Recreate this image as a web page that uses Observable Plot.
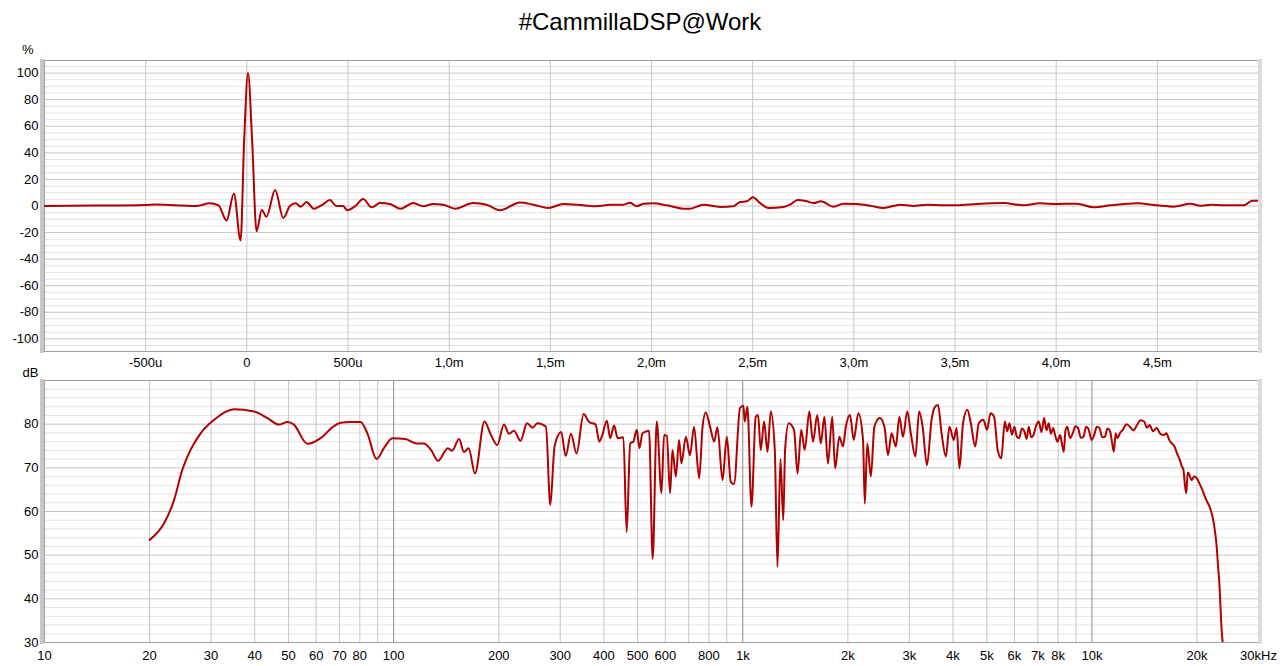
<!DOCTYPE html>
<html><head><meta charset="utf-8">
<script src="https://cdn.jsdelivr.net/npm/d3@7"></script>
<script src="https://cdn.jsdelivr.net/npm/@observablehq/plot@0.6"></script>
<style>
body{margin:0;background:#fff;}
#wrap{position:relative;width:1280px;height:666px;overflow:hidden;font-family:"Liberation Sans",Arial,sans-serif;background:#fff;}
#title{position:absolute;top:7px;left:0;width:1280px;text-align:center;font-size:24px;color:#000;line-height:30px;}
.pl{position:absolute;left:0;}
.bar{position:absolute;}
</style></head><body><div id="wrap"><div id="title">#CammillaDSP@Work</div></div>
<script>
// ---- Impulse response (time in ms, amplitude in %) ----
const timeMs = [-1.0, -0.75, -0.5, -0.45, -0.35, -0.252, -0.183, -0.14, -0.1, -0.064, -0.031, -0.013, 0.006, 0.026, 0.048, 0.074, 0.097, 0.14, 0.18, 0.213, 0.242, 0.266, 0.295, 0.331, 0.377, 0.41, 0.443, 0.476, 0.496, 0.534, 0.575, 0.617, 0.658, 0.707, 0.76, 0.822, 0.872, 0.921, 0.971, 1.029, 1.119, 1.185, 1.251, 1.35, 1.416, 1.49, 1.564, 1.663, 1.729, 1.795, 1.861, 1.894, 1.927, 1.96, 2.009, 2.076, 2.158, 2.191, 2.257, 2.339, 2.405, 2.438, 2.471, 2.501, 2.537, 2.578, 2.652, 2.685, 2.722, 2.768, 2.801, 2.837, 2.9, 2.949, 3.015, 3.081, 3.147, 3.229, 3.295, 3.362, 3.444, 3.51, 3.609, 3.74, 3.839, 3.921, 4.004, 4.103, 4.185, 4.268, 4.4, 4.499, 4.581, 4.664, 4.713, 4.763, 4.828, 4.927, 4.969, 5.0];
const amplitudePct = [0, 0.3, 0.8, 1.2, 0.6, 0, 2, 0.5, -11, 9.5, -26, 50, 100, 50, -19, -3, -8, 12, -9, 0, 2, -0.5, 3, -2, 1.3, 4.5, 0, 0, -3.2, -0.3, 5.2, -1, 2.2, 1.5, -2, 2.2, -0.2, 1.5, 1, -2, 2.2, 1, -3.2, 2.7, 1, -1.5, 1.5, 0.5, -0.2, 1, 1, 2.5, -0.2, 1.7, 2, 0.5, -2, -2, 1, -0.7, -0.2, 3, 3.5, 6.5, 2.2, -1.5, -0.7, 1, 4.5, 3.5, 2.2, 3.5, -0.5, 1.7, 1.5, 0.2, -1.5, 1, 0, 1, 0.5, 0.5, 1.5, 2.2, 0.5, 2, 1.5, 1.7, -1, 0.5, 2, 0.5, -0.5, 1.7, 0.2, 1, 0.5, 0.5, 4, 4];
const timeTicks = [-0.5, 0, 0.5, 1.0, 1.5, 2.0, 2.5, 3.0, 3.5, 4.0, 4.5];
const pctTicks = [-100, -80, -60, -40, -20, 0, 20, 40, 60, 80, 100];

// ---- Frequency response (Hz, dB) ----
const freqHz = [20, 22, 23.5, 24.8, 26.2, 28.0, 30.6, 34.9, 39.8, 43.5, 46.9, 49.6, 51.8, 56.6, 61.8, 67.3, 70.5, 75.3, 80.4, 84.1, 89.4, 93.8, 99.2, 108, 116, 122, 128, 134, 143, 147, 154, 159, 164, 171, 182, 190, 198, 207, 214, 221, 231, 241, 250, 258, 273, 281, 289, 302, 311, 322, 334, 350, 363, 379, 388, 396, 408, 417, 428, 438, 455, 465, 476, 486, 497, 506, 516, 527, 539, 552, 567, 585, 595, 606, 619, 629, 643, 657, 667, 687, 706, 725, 750, 767, 783, 806, 828, 846, 875, 900, 924, 944, 982, 1004, 1013, 1031, 1059, 1089, 1106, 1126, 1151, 1177, 1203, 1235, 1257, 1282, 1306, 1322, 1353, 1402, 1435, 1470, 1505, 1551, 1589, 1634, 1673, 1713, 1754, 1804, 1838, 1891, 1936, 1973, 2029, 2078, 2143, 2210, 2236, 2273, 2327, 2382, 2468, 2545, 2606, 2668, 2744, 2809, 2876, 2959, 3029, 3123, 3198, 3275, 3369, 3473, 3556, 3624, 3710, 3817, 3908, 4020, 4097, 4174, 4274, 4397, 4501, 4630, 4741, 4888, 5005, 5124, 5246, 5371, 5500, 5630, 5720, 5805, 5900, 5999, 6090, 6186, 6300, 6410, 6500, 6594, 6700, 6799, 6920, 7042, 7170, 7296, 7410, 7523, 7630, 7739, 7850, 7961, 8112, 8210, 8306, 8400, 8504, 8650, 8810, 8970, 9127, 9290, 9455, 9620, 9795, 9970, 10148, 10330, 10513, 10700, 10890, 11080, 11282, 11420, 11553, 11700, 11829, 12040, 12255, 12550, 12845, 13150, 13466, 13780, 14112, 14370, 14622, 14970, 15324, 15700, 16065, 16350, 16642, 16940, 17240, 17550, 17862, 18080, 18288, 18470, 18637, 18800, 18945, 19300, 19629, 19980, 20333, 20700, 21067, 21450, 21826, 22347, 22774, 22986, 23150, 23530, 23690];
const levelDb = [53.5, 57.3, 62.6, 69.5, 74.1, 77.9, 81.0, 83.4, 82.9, 81.4, 79.9, 80.5, 79.9, 75.5, 76.8, 79.5, 80.3, 80.5, 80.5, 77.9, 72.0, 74.5, 76.8, 76.6, 75.6, 75.6, 74.1, 71.6, 74.5, 73.9, 76.6, 73.6, 74.5, 68.7, 80.6, 77.5, 75.2, 79.9, 77.8, 78.5, 76.2, 80.2, 79.2, 80.2, 79.4, 61.5, 74.9, 78.2, 72.7, 77.8, 73.3, 82.3, 80.5, 79.9, 76.0, 77.5, 80.8, 76.8, 79.7, 76.8, 77.0, 55.3, 75.6, 76.0, 78.7, 74.5, 77.9, 78.3, 78.5, 49.2, 80.6, 64.2, 77.5, 77.3, 64.2, 74.1, 68.0, 76.4, 71.0, 77.1, 72.9, 79.4, 67.6, 79.4, 82.7, 79.4, 76.0, 79.3, 67.2, 77.1, 66.8, 66.3, 83.7, 84.2, 80.6, 84.0, 61.1, 81.7, 82.1, 74.1, 80.6, 73.7, 82.9, 74.1, 47.3, 72.0, 58.0, 74.1, 80.2, 78.7, 68.7, 78.7, 74.1, 82.9, 76.0, 82.1, 75.6, 81.7, 71.0, 81.7, 69.9, 77.1, 74.9, 79.4, 82.1, 76.4, 82.5, 76.4, 61.8, 75.6, 68.0, 79.4, 81.4, 79.4, 72.9, 77.9, 74.9, 81.7, 77.1, 82.9, 77.9, 72.6, 82.9, 79.4, 70.6, 81.0, 84.0, 84.4, 77.9, 72.6, 79.4, 76.4, 79.1, 69.9, 80.2, 83.3, 80.2, 74.9, 80.2, 81.0, 78.7, 82.5, 81.7, 74.1, 72.2, 80.6, 78.4, 80.2, 77.6, 79.4, 77.2, 76.8, 79.0, 78.3, 76.6, 79.4, 77.0, 77.5, 79.6, 80.6, 78.2, 81.4, 78.6, 80.2, 77.8, 79.1, 77.4, 76.0, 77.5, 75.4, 73.7, 78.6, 79.4, 76.8, 77.9, 79.5, 79.1, 76.9, 77.1, 79.4, 78.7, 76.4, 77.5, 79.4, 79.1, 77.0, 77.1, 79.0, 78.3, 75.8, 73.7, 77.9, 76.8, 78.0, 78.7, 80.0, 79.4, 78.6, 79.8, 80.9, 80.6, 79.2, 79.8, 78.4, 79.1, 77.8, 77.5, 77.9, 76.4, 75.6, 74.9, 73.2, 71.8, 70.4, 69.5, 66.0, 64.2, 68.9, 68.7, 67.2, 68.0, 67.6, 66.4, 65.0, 63.4, 62.0, 60.7, 57.3, 51.9, 47.3, 44.2, 32.8, 30.0];
const freqTicks = [10, 20, 30, 40, 50, 60, 70, 80, 100, 200, 300, 400, 500, 600, 800, 1000, 2000, 3000, 4000, 5000, 6000, 7000, 8000, 10000, 20000, 30000];
const freqGrid = [20, 30, 40, 50, 60, 70, 80, 90, 200, 300, 400, 500, 600, 700, 800, 900, 2000, 3000, 4000, 5000, 6000, 7000, 8000, 9000, 20000];
const freqDecades = [100, 1000, 10000];
const dbTicks = [30, 40, 50, 60, 70, 80];

const FONT = "Liberation Sans, Arial, sans-serif";
const RED = "#b00000";
const wrap = document.getElementById("wrap");

const fmtTime = t => t === 0 ? "0" : Math.abs(t) < 1 ? Math.round(t * 1000) + "u" : t.toFixed(1).replace(".", ",") + "m";
const fmtFreq = f => f === 30000 ? "30kHz" : f >= 1000 ? (f / 1000) + "k" : String(f);

const impulse = timeMs.map((t, i) => ({t, v: amplitudePct[i]}));
const response = freqHz.map((f, i) => ({f, db: levelDb[i]}));

const p1 = Plot.plot({
  width: 1280, height: 376,
  marginLeft: 44, marginRight: 22, marginTop: 60, marginBottom: 25,
  style: {background: "transparent", fontFamily: FONT, fontSize: "13px", color: "#000"},
  x: {domain: [-1, 5], axis: null},
  y: {domain: [-109.5, 109.5], axis: null},
  marks: [
    Plot.ruleY(d3.range(-105, 110, 5).filter(v => v % 20 !== 0), {stroke: "#e4e4e4"}),
    Plot.ruleY(pctTicks, {stroke: "#c6c6c6"}),
    Plot.ruleX(timeTicks, {stroke: "#c6c6c6"}),
    Plot.frame({stroke: "#a0a0a0"}),
    Plot.line(impulse, {x: "t", y: "v", stroke: RED, strokeWidth: 2, curve: "monotone-x", clip: true}),
    Plot.text(timeTicks, {x: d => d, text: fmtTime, frameAnchor: "bottom", dy: 11, lineAnchor: "middle", fill: "#000"}),
    Plot.text(pctTicks, {y: d => d, text: d => String(d), frameAnchor: "left", dx: -6, textAnchor: "end", lineAnchor: "middle", fill: "#000"}),
    Plot.text(["%"], {frameAnchor: "top-left", dx: -11, dy: -11, textAnchor: "end", lineAnchor: "middle", fill: "#000"})
  ]
});
p1.classList.add("pl"); p1.style.top = "0px";
wrap.appendChild(p1);

const p2 = Plot.plot({
  width: 1280, height: 300,
  marginLeft: 44, marginRight: 22, marginTop: 14, marginBottom: 24,
  style: {background: "transparent", fontFamily: FONT, fontSize: "13px", color: "#000"},
  x: {type: "log", domain: [10, 30000], axis: null},
  y: {domain: [30, 90], axis: null},
  marks: [
    Plot.ruleY(d3.range(32, 90, 2).filter(v => v % 10 !== 0), {stroke: "#e4e4e4"}),
    Plot.ruleY(dbTicks.slice(1), {stroke: "#c6c6c6"}),
    Plot.ruleX(freqGrid, {stroke: "#c6c6c6"}),
    Plot.ruleX(freqDecades, {stroke: "#8c8c8c"}),
    Plot.frame({stroke: "#a0a0a0"}),
    Plot.line(response, {x: "f", y: "db", stroke: RED, strokeWidth: 2, curve: "monotone-x", clip: true}),
    Plot.text(freqTicks, {x: d => d, text: fmtFreq, frameAnchor: "bottom", dy: 13, lineAnchor: "middle", fill: "#000"}),
    Plot.text(dbTicks, {y: d => d, text: d => String(d), frameAnchor: "left", dx: -6, textAnchor: "end", lineAnchor: "middle", fill: "#000"}),
    Plot.text(["dB"], {frameAnchor: "top-left", dx: -6, dy: -8, textAnchor: "end", lineAnchor: "middle", fill: "#000"})
  ]
});
p2.classList.add("pl"); p2.style.top = "366px";
wrap.appendChild(p2);

// panel edge bars (3D border look)
[[40, 59, 4, 294], [1258, 59, 4, 294], [40, 379, 4, 265], [1258, 379, 4, 265]].forEach(([l, t, w, h], i) => {
  const d = document.createElement("div");
  d.className = "bar";
  Object.assign(d.style, {left: l + "px", top: t + "px", width: w + "px", height: h + "px", background: i % 2 ? "#dcdcdc" : "#c8c8c8"});
  wrap.appendChild(d);
});
</script></body></html>
